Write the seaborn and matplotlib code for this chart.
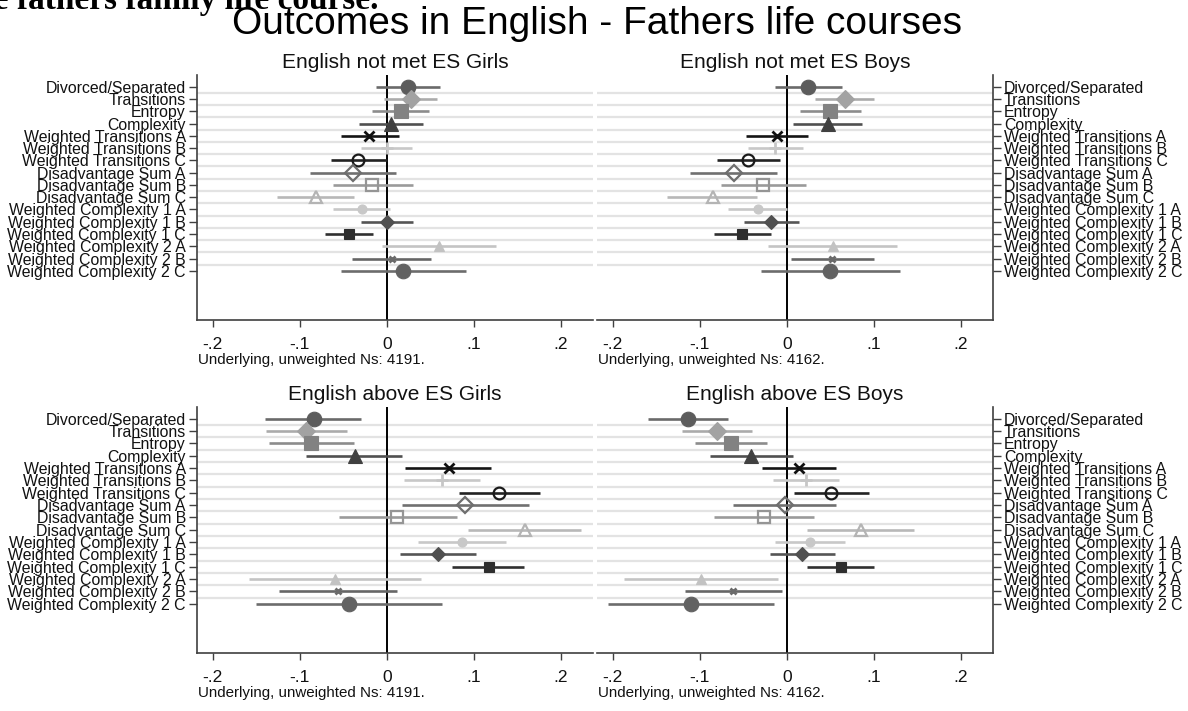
import numpy as np
import pandas as pd
import matplotlib
matplotlib.use("Agg")
import matplotlib.pyplot as plt
import seaborn as sns

sns.set_theme(style="white")
plt.rcParams["font.family"] = ["Liberation Sans", "DejaVu Sans"]

# ---------------- data ----------------
categories = [
    "Divorced/Separated", "Transitions", "Entropy", "Complexity",
    "Weighted Transitions A", "Weighted Transitions B", "Weighted Transitions C",
    "Disadvantage Sum A", "Disadvantage Sum B", "Disadvantage Sum C",
    "Weighted Complexity 1 A", "Weighted Complexity 1 B", "Weighted Complexity 1 C",
    "Weighted Complexity 2 A", "Weighted Complexity 2 B", "Weighted Complexity 2 C",
]

panel_titles = ["English not met ES Girls", "English not met ES Boys",
                "English above ES Girls", "English above ES Boys"]
panel_notes = ["Underlying, unweighted Ns: 4191.", "Underlying, unweighted Ns: 4162.",
               "Underlying, unweighted Ns: 4191.", "Underlying, unweighted Ns: 4162."]

notmet_girls_est = [0.024, 0.028, 0.016, 0.005, -0.020, 0.000, -0.033, -0.039,
                    -0.017, -0.081, -0.028, 0.000, -0.043, 0.060, 0.006, 0.019]
notmet_girls_lo = [-0.012, -0.003, -0.017, -0.032, -0.053, -0.030, -0.064, -0.088,
                   -0.062, -0.126, -0.062, -0.030, -0.071, -0.006, -0.040, -0.053]
notmet_girls_hi = [0.061, 0.058, 0.049, 0.042, 0.014, 0.029, 0.000, 0.011,
                   0.030, -0.038, 0.004, 0.030, -0.016, 0.126, 0.051, 0.091]

notmet_boys_est = [0.025, 0.067, 0.050, 0.047, -0.011, -0.013, -0.044, -0.061,
                   -0.027, -0.085, -0.033, -0.018, -0.051, 0.053, 0.052, 0.050]
notmet_boys_lo = [-0.013, 0.033, 0.015, 0.007, -0.047, -0.044, -0.080, -0.111,
                  -0.075, -0.137, -0.067, -0.049, -0.084, -0.021, 0.005, -0.030]
notmet_boys_hi = [0.064, 0.100, 0.085, 0.087, 0.025, 0.019, -0.008, -0.011,
                  0.022, -0.034, 0.000, 0.014, -0.018, 0.127, 0.100, 0.130]

above_girls_est = [-0.084, -0.093, -0.087, -0.037, 0.071, 0.063, 0.129, 0.090,
                   0.012, 0.159, 0.087, 0.059, 0.117, -0.060, -0.056, -0.043]
above_girls_lo = [-0.140, -0.139, -0.135, -0.093, 0.021, 0.020, 0.083, 0.017,
                  -0.055, 0.093, 0.036, 0.015, 0.075, -0.158, -0.124, -0.150]
above_girls_hi = [-0.029, -0.046, -0.038, 0.017, 0.120, 0.107, 0.176, 0.164,
                  0.081, 0.223, 0.137, 0.103, 0.158, 0.039, 0.012, 0.064]

above_boys_est = [-0.113, -0.080, -0.064, -0.041, 0.014, 0.022, 0.051, -0.002,
                  -0.026, 0.085, 0.027, 0.018, 0.062, -0.098, -0.062, -0.110]
above_boys_lo = [-0.159, -0.120, -0.105, -0.088, -0.028, -0.016, 0.008, -0.062,
                 -0.083, 0.023, -0.013, -0.019, 0.023, -0.187, -0.117, -0.205]
above_boys_hi = [-0.067, -0.040, -0.023, 0.007, 0.057, 0.060, 0.094, 0.057,
                 0.031, 0.146, 0.067, 0.055, 0.100, -0.010, -0.005, -0.015]

x_ticks = [-0.2, -0.1, 0.0, 0.1, 0.2]
x_ticklabels = ["-.2", "-.1", "0", ".1", ".2"]

panels = [
    (notmet_girls_est, notmet_girls_lo, notmet_girls_hi),
    (notmet_boys_est, notmet_boys_lo, notmet_boys_hi),
    (above_girls_est, above_girls_lo, above_girls_hi),
    (above_boys_est, above_boys_lo, above_boys_hi),
]

# ---------------- styles (per category) ----------------
# marker, size, face, edge, ci colour
styles = [
    ("o", 10.5, "#5c5c5c", "#5c5c5c", "#6a6a6a"),
    ("D", 9.0, "#a2a2a2", "#a2a2a2", "#ababab"),
    ("s", 9.5, "#828282", "#828282", "#8c8c8c"),
    ("^", 10.5, "#404040", "#404040", "#505050"),
    ("x", 6.5, "#101010", "#101010", "#141414"),
    ("+", 8.0, "#c6c6c6", "#c6c6c6", "#c8c8c8"),
    ("o", 8.5, "none", "#1a1a1a", "#222222"),
    ("D", 8.5, "none", "#6e6e6e", "#707070"),
    ("s", 8.5, "none", "#959595", "#9a9a9a"),
    ("^", 9.0, "none", "#b4b4b4", "#b8b8b8"),
    ("o", 6.5, "#c8c8c8", "#c8c8c8", "#c8c8c8"),
    ("D", 7.0, "#505050", "#505050", "#555555"),
    ("s", 7.0, "#2e2e2e", "#2e2e2e", "#303030"),
    ("^", 7.5, "#c2c2c2", "#c2c2c2", "#c4c4c4"),
    ("x", 4.5, "#6a6a6a", "#6a6a6a", "#666666"),
    ("o", 10.5, "#626262", "#626262", "#6c6c6c"),
]

W, H = 1188, 711
fig = plt.figure(figsize=(W / 100, H / 100), dpi=100)
fig.patch.set_facecolor("white")


def add_ax(x0, y0, x1, y1):
    return fig.add_axes([x0 / W, 1 - y1 / H, (x1 - x0) / W, (y1 - y0) / H])


boxes = [(197, 75, 593, 320), (597, 75, 993, 320),
         (197, 407, 593, 653), (597, 407, 993, 653)]

ypos = np.arange(len(categories))

for k, (box, (est, lo, hi)) in enumerate(zip(boxes, panels)):
    ax = add_ax(*box)
    ax.set_facecolor("white")
    df = pd.DataFrame({"cat": categories, "y": ypos, "est": est, "lo": lo, "hi": hi})
    # gridlines between categories
    for g in ypos[:-1] + 0.5:
        ax.axhline(g, color="#e3e3e3", lw=1.6, zorder=1)
    ax.axvline(0, color="#000000", lw=1.4, zorder=2)
    for i, row in df.iterrows():
        m, ms, fc, ec, lc = styles[i]
        ax.hlines(row["y"], row["lo"], row["hi"], color=lc, lw=1.9, zorder=3)
        if m in ("x", "+"):
            mew = 2.0
        elif fc == "none":
            mew = 1.6
        else:
            mew = 0.8
        ax.plot(row["est"], row["y"], marker=m, ms=ms, mfc=fc, mec=ec,
                mew=mew, ls="none", zorder=4)
    ax.set_xlim(-0.218, 0.237)
    ax.set_ylim(19.0, -0.95)
    ax.set_xticks(x_ticks)
    ax.set_xticklabels(x_ticklabels, fontsize=12.5, color="#111111")
    ax.set_yticks(ypos)
    ax.set_yticklabels(categories, fontsize=11.4, color="#111111")
    ax.tick_params(axis="x", length=5, width=1.0, color="#404040", pad=7,
                   direction="out", bottom=True)
    ax.tick_params(axis="y", length=6, width=1.0, color="#404040", pad=2,
                   direction="out")
    for s in ax.spines.values():
        s.set_visible(False)
    ax.spines["bottom"].set_visible(True)
    ax.spines["bottom"].set_color("#404040")
    ax.spines["bottom"].set_linewidth(1.2)
    if k % 2 == 0:
        ax.spines["left"].set_visible(True)
        ax.spines["left"].set_color("#404040")
        ax.spines["left"].set_linewidth(1.2)
        ax.yaxis.tick_left()
    else:
        ax.spines["right"].set_visible(True)
        ax.spines["right"].set_color("#404040")
        ax.spines["right"].set_linewidth(1.2)
        ax.yaxis.tick_right()
    ax.grid(False)
    x0, y0, x1, y1 = box
    fig.text((x0 + x1) / 2 / W, 1 - (y0 - 13) / H, panel_titles[k],
             ha="center", va="center", fontsize=15, color="#111111")
    fig.text((x0 + 1) / W, 1 - (y1 + 33) / H, panel_notes[k],
             ha="left", va="top", fontsize=10.9, color="#111111")

fig.text(597 / W, 1 - 24 / H, "Outcomes in English - Fathers life courses",
         ha="center", va="center", fontsize=28, color="#000000")
fig.text(378 / W, 1 - 9 / H, "the fathers family life course.",
         ha="right", va="baseline", fontsize=24, fontweight="bold",
         family=["Liberation Serif", "DejaVu Serif"], color="#000000")

fig.savefig("out.png", dpi=100, facecolor="white")
